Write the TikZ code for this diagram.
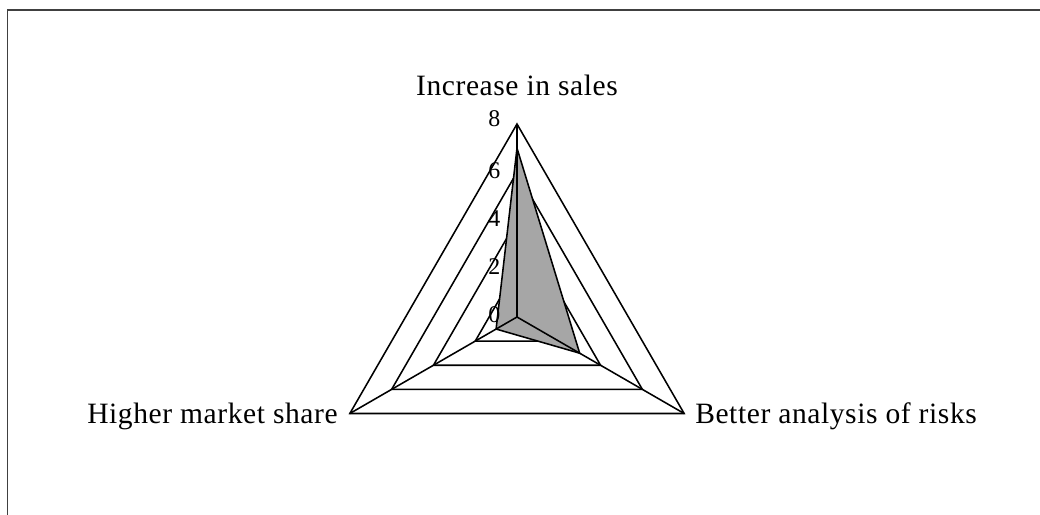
\documentclass[tikz,border=0pt]{standalone}
\usepackage{fontspec}
\setmainfont{Liberation Serif}[LetterSpace=2]
\usetikzlibrary{calc}

\tikzset{
  axislabel/.style={font=\fontsize{21}{25}\selectfont, inner sep=0pt},
  ticklabel/.style={font=\fontsize{17}{20}\selectfont, inner sep=0pt, anchor=east},
  grid/.style={line width=1.1pt, line join=miter},
}

\begin{document}
\begin{tikzpicture}
  \def\rad{4.825}
  \def\tsep{0.41}

  \useasboundingbox (-12.925, -4.95) rectangle (13.075, 7.925);
  \draw[line width=1.3pt, black!75] (13.075, 7.675) -- (-12.7375, 7.675) -- (-12.7375, -4.95);

  \coordinate (O)  at (0, 0);
  \coordinate (s8) at (90:\rad);
  \coordinate (r8) at (-30:\rad);
  \coordinate (m8) at (210:\rad);
  \coordinate (s6) at (90:{0.75*\rad});
  \coordinate (r6) at (-30:{0.75*\rad});
  \coordinate (m6) at (210:{0.75*\rad});
  \coordinate (s4) at (90:{0.5*\rad});
  \coordinate (r4) at (-30:{0.5*\rad});
  \coordinate (m4) at (210:{0.5*\rad});
  \coordinate (s2) at (90:{0.25*\rad});
  \coordinate (r2) at (-30:{0.25*\rad});
  \coordinate (m2) at (210:{0.25*\rad});

  % rings
  \draw[grid] (s8) -- (r8) -- (m8) -- cycle;
  \draw[grid] (s6) -- (r6) -- (m6) -- cycle;
  \draw[grid] (s4) -- (r4) -- (m4) -- cycle;
  \draw[grid] (s2) -- (r2) -- (m2) -- cycle;

  % data
  \coordinate (ds) at (90:{7/8*\rad});
  \coordinate (dr) at (-30:{3/8*\rad});
  \coordinate (dm) at (210:{1/8*\rad});
  \draw[grid, fill=black!35] (ds) -- (dr) -- (dm) -- cycle;

  % axes
  \draw[grid] (O) -- (s8);
  \draw[grid] (O) -- (r8);
  \draw[grid] (O) -- (m8);

  \node[ticklabel] (t8) at (-\tsep, {\rad+0.125}) {8};
  \node[ticklabel] (t6) at (-\tsep, {0.75*\rad+0.05}) {6};
  \node[ticklabel] (t4) at (-\tsep, {0.5*\rad+0.05}) {4};
  \node[ticklabel] (t2) at (-\tsep, {0.25*\rad+0.05}) {2};
  \node[ticklabel] (t0) at (-\tsep, 0.05) {0};

  \node[axislabel, anchor=base] (sales) at (0, 5.525) {Increase in sales};
  \node[axislabel, anchor=base east] (share) at (-4.475, -2.65) {Higher market share};
  \node[axislabel, anchor=base west] (risks) at (4.45, -2.65) {Better analysis of risks};
\end{tikzpicture}
\end{document}
